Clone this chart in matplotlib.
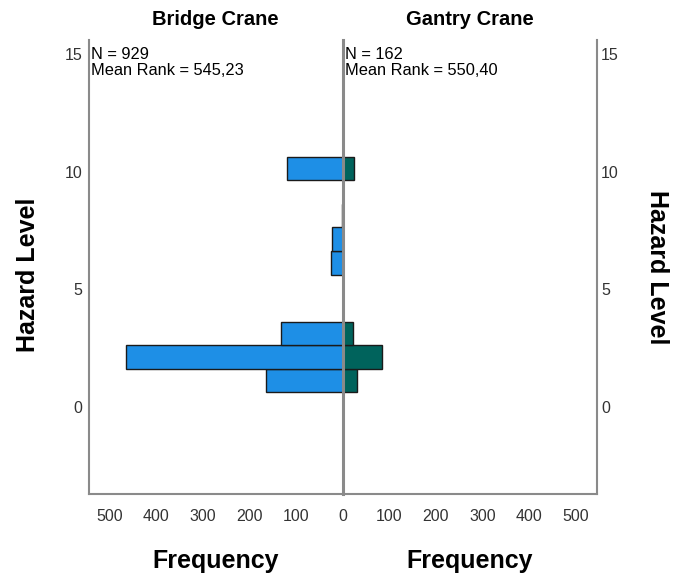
import matplotlib
matplotlib.use("Agg")
import matplotlib.pyplot as plt

plt.rcParams['font.family'] = ['Liberation Sans', 'DejaVu Sans']

# Histogram bins (lower edge of each hazard-level bin, common width)
bin_starts = [0.63, 1.63, 2.63, 5.63, 6.63, 7.63, 9.63]
bin_width = 1.0
bridge_counts = [164, 465, 132, 25, 22, 1, 120]
gantry_counts = [30, 85, 23, 0, 0, 0, 24]

groups = ["Bridge Crane", "Gantry Crane"]
group_n = [929, 162]
mean_ranks = ["545,23", "550,40"]

x_ticks = [0, 100, 200, 300, 400, 500]
y_ticks = [0, 5, 10, 15]
x_max = 545
y_range = (-3.7, 15.6)

blue = "#1E8FE6"
teal = "#00635C"
spine_gray = "#8a8a8a"
tick_color = "#333333"

W, H = 683, 576
fig = plt.figure(figsize=(W / 100, H / 100), dpi=100)

x0, xc, x1 = 89 / W, 342.5 / W, 597 / W
yb, yt = 1 - 494 / H, 1 - 40 / H
axL = fig.add_axes([x0, yb, xc - x0, yt - yb])
axR = fig.add_axes([xc, yb, x1 - xc, yt - yb], sharey=axL)

axL.barh(bin_starts, bridge_counts, height=bin_width, align="edge",
         color=blue, edgecolor="#1a1a1a", linewidth=1.0, zorder=2)
axR.barh(bin_starts, gantry_counts, height=bin_width, align="edge",
         color=teal, edgecolor="#1a1a1a", linewidth=1.0, zorder=2)

axL.set_xlim(x_max, 0)
axR.set_xlim(0, x_max)
axL.set_ylim(*y_range)

for ax in (axL, axR):
    for s in ax.spines.values():
        s.set_color(spine_gray)
        s.set_linewidth(1.5)
    ax.spines["top"].set_visible(False)
    ax.tick_params(length=0, labelsize=11.5, labelcolor=tick_color, pad=11)
    ax.set_yticks(y_ticks)

axL.spines["right"].set_visible(False)
axR.spines["right"].set_visible(True)
axR.spines["left"].set_linewidth(2.2)
axR.spines["left"].set_zorder(5)
axL.set_xticks(x_ticks)
axL.set_xticklabels([str(v) for v in x_ticks])
axR.set_xticks(x_ticks[1:])
axR.set_xticklabels([str(v) for v in x_ticks[1:]])

axL.tick_params(axis="y", labelleft=True, pad=5)
axR.tick_params(axis="y", labelleft=False, labelright=True, pad=3)

for ax, g, n, mr in zip((axL, axR), groups, group_n, mean_ranks):
    ax.set_title(g, fontsize=14.5, fontweight="bold", pad=11)
    ax.set_xlabel("Frequency", fontsize=18, fontweight="bold", labelpad=18)
    ax.text(0.008, 0.984, f"N = {n}\nMean Rank = {mr}", transform=ax.transAxes,
            ha="left", va="top", fontsize=11.8, linespacing=1.1)

axL.set_ylabel("Hazard Level", fontsize=18, fontweight="bold")
axL.yaxis.set_label_coords(-0.195, 0.482)
axR.yaxis.set_label_position("right")
axR.set_ylabel("Hazard Level", fontsize=18, fontweight="bold",
               rotation=270, labelpad=36)

fig.savefig("out.png", dpi=100)
